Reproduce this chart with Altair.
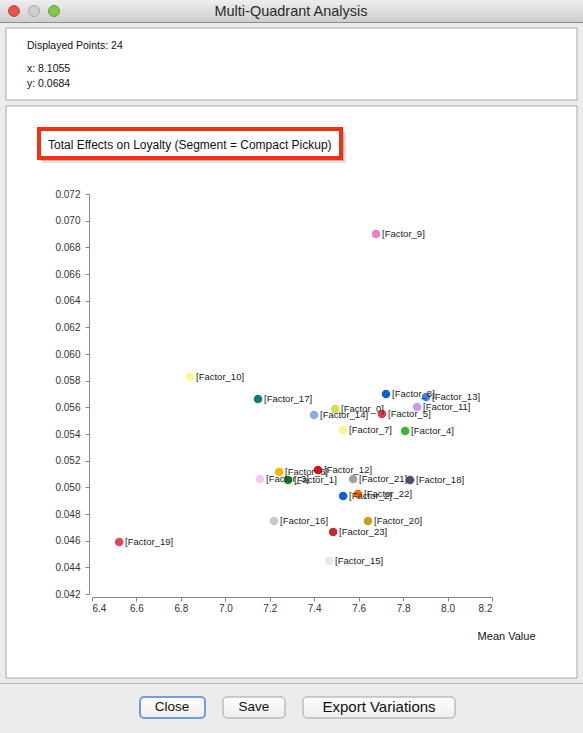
import altair as alt
import pandas as pd

# ---- data -------------------------------------------------------------
factors = [f"Factor_{i}" for i in range(24)]

mean_value = [
    7.494, 7.282, 7.530, 7.156, 7.809, 7.705, 7.242, 7.530,
    7.723, 7.678, 6.841, 7.863, 7.417, 7.903, 7.399, 7.467,
    7.219, 7.147, 7.831, 6.522, 7.642, 7.575, 7.597, 7.485,
]

total_effect = [
    0.05588, 0.05055, 0.04935, 0.05063, 0.05423, 0.05550, 0.05115, 0.05430,
    0.05700, 0.06900, 0.05830, 0.05603, 0.05130, 0.05678, 0.05543, 0.04448,
    0.04748, 0.05663, 0.05055, 0.04590, 0.04748, 0.05063, 0.04950, 0.04665,
]

point_colors = [
    "#d2e04c", "#1e8c1e", "#0a64d8", "#f7c6ef", "#38b838", "#e63848",
    "#f5b800", "#f7f78c", "#0b5cd6", "#ee80bf", "#f9f98a", "#c89af0",
    "#d81212", "#3e86e0", "#88acdc", "#e8e8e8", "#c8c8c8", "#0d7d72",
    "#4a5270", "#e04852", "#c9a014", "#a0a0a0", "#f06800", "#c02a2a",
]

x_ticks = [6.4, 6.6, 6.8, 7.0, 7.2, 7.4, 7.6, 7.8, 8.0, 8.2]
y_ticks = [0.042, 0.044, 0.046, 0.048, 0.050, 0.052, 0.054, 0.056,
           0.058, 0.060, 0.062, 0.064, 0.066, 0.068, 0.070, 0.072]

df = pd.DataFrame({
    "factor": factors,
    "label": [f"[{f}]" for f in factors],
    "mean": mean_value,
    "effect": total_effect,
})

# ---- layout (window is 583 x 733, plot area 400 x 400) -----------------
LEFT, TOP, W, H = 92, 194, 400, 400
FONT = "Liberation Sans"
one = pd.DataFrame({"k": [0]})


def box(x1, y1, x2, y2, **kw):
    """Window decoration rectangle in window pixel coordinates."""
    return alt.Chart(one).mark_rect(**kw).encode(
        x=alt.value(x1 - LEFT), x2=alt.value(x2 - LEFT),
        y=alt.value(y1 - TOP), y2=alt.value(y2 - TOP),
    )


def label(x, y, text, **kw):
    return alt.Chart(one).mark_text(text=text, font=FONT, **kw).encode(
        x=alt.value(x - LEFT), y=alt.value(y - TOP)
    )


def dot(x, y, fill, stroke):
    return alt.Chart(one).mark_point(
        filled=True, size=120, fill=fill, stroke=stroke, strokeWidth=0.8, opacity=1
    ).encode(x=alt.value(x - LEFT), y=alt.value(y - TOP))


titlebar_grad = alt.LinearGradient(
    gradient="linear", x1=0, y1=0, x2=0, y2=1,
    stops=[alt.GradientStop(color="#eeeeee", offset=0),
           alt.GradientStop(color="#cfcfcf", offset=1)],
)
button_grad = alt.LinearGradient(
    gradient="linear", x1=0, y1=0, x2=0, y2=1,
    stops=[alt.GradientStop(color="#ffffff", offset=0),
           alt.GradientStop(color="#eeeeee", offset=1)],
)

chrome = [
    # title bar
    box(0, 0, 583, 22, fill=titlebar_grad),
    box(0, 22, 583, 23, fill="#8c8c8c"),
    label(291, 12, "Multi-Quadrant Analysis", fontSize=14.5, color="#2a2a2a",
          align="center", baseline="middle"),
    dot(14, 11, "#e9544c", "#a8342e"),
    dot(34, 11, "#cfcfcf", "#9a9a9a"),
    dot(54, 11, "#84c84a", "#4f8a2c"),
    # info panel
    box(6, 28, 577, 100, fill="white", stroke="#a9a9a9", strokeWidth=1),
    label(27, 46, "Displayed Points: 24", fontSize=10.5, color="#111",
          align="left", baseline="middle"),
    label(27, 69, "x: 8.1055", fontSize=10.5, color="#111",
          align="left", baseline="middle"),
    label(27, 84, "y: 0.0684", fontSize=10.5, color="#111",
          align="left", baseline="middle"),
    # chart panel
    box(6, 106, 577, 678, fill="white", stroke="#a9a9a9", strokeWidth=1),
    box(0, 683, 583, 684, fill="#b4b4b4"),
    # highlighted chart title
    box(42, 132, 346, 163, fill="#000000", opacity=0.12),
    box(40, 130, 344, 161, fill="#000000", opacity=0.18),
    box(39, 129, 341, 158, fill="white", stroke="#f2300e", strokeWidth=4),
    label(48, 145, "Total Effects on Loyalty (Segment = Compact Pickup)",
          fontSize=12, color="#111", align="left", baseline="middle"),
    # buttons
    box(140, 697, 205, 718, fill=button_grad, stroke="#6f9fe0",
        strokeWidth=2, cornerRadius=4),
    box(223, 697, 285, 718, fill=button_grad, stroke="#a0a0a0",
        strokeWidth=1, cornerRadius=4),
    box(303, 697, 455, 718, fill=button_grad, stroke="#a0a0a0",
        strokeWidth=1, cornerRadius=4),
    label(172, 707, "Close", fontSize=13.5, color="#111", align="center", baseline="middle"),
    label(254, 707, "Save", fontSize=13.5, color="#111", align="center", baseline="middle"),
    label(379, 707, "Export Variations", fontSize=15, color="#111",
          align="center", baseline="middle"),
]

# ---- scatter -----------------------------------------------------------
x_enc = alt.X(
    "mean:Q",
    scale=alt.Scale(domain=[6.4, 8.2], nice=False, zero=False),
    axis=alt.Axis(
        values=x_ticks, format=".1f", grid=False, offset=3, zindex=1,
        labelFontSize=10, labelColor="#333", labelPadding=2,
        tickColor="#888", domainColor="#888", tickSize=4,
        title="Mean Value", titleFontSize=11, titleFontWeight="normal",
        titleColor="#111", titleAlign="right", titleX=443, titleY=42,
        titleBaseline="alphabetic",
    ),
)
y_enc = alt.Y(
    "effect:Q",
    scale=alt.Scale(domain=[0.042, 0.072], nice=False, zero=False),
    axis=alt.Axis(
        values=y_ticks, format=".3f", grid=False, offset=3, zindex=1,
        labelFontSize=10, labelColor="#333", labelPadding=5,
        tickColor="#888", domainColor="#888", tickSize=4, title=None,
    ),
)

base = alt.Chart(df).encode(x=x_enc, y=y_enc)

points = base.mark_circle(size=72, opacity=1).encode(
    color=alt.Color("factor:N",
                    scale=alt.Scale(domain=factors, range=point_colors),
                    legend=None)
)
texts = base.mark_text(
    align="left", baseline="middle", dx=6, fontSize=9.5, font=FONT, color="#222"
).encode(text="label:N")

chart = alt.layer(*chrome, points, texts).properties(
    width=W, height=H,
    padding={"left": LEFT, "top": TOP, "right": 583 - LEFT - W, "bottom": 733 - TOP - H},
    autosize=alt.AutoSizeParams(type="none"),
    background="#ececec",
).configure(font=FONT).configure_view(strokeWidth=0)

chart.save("out.html", embed_options={"renderer": "svg", "actions": False})
